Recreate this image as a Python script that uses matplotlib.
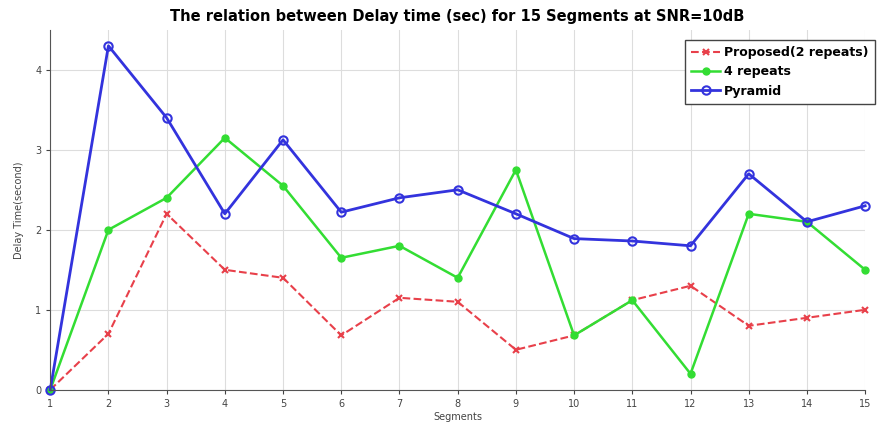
import matplotlib
matplotlib.use("Agg")
import matplotlib.pyplot as plt

segments = list(range(1, 16))
proposed = [0, 0.7, 2.2, 1.5, 1.4, 0.68, 1.15, 1.1, 0.5, 0.68, 1.12, 1.3, 0.8, 0.9, 1.0]
four_rep = [0, 2.0, 2.4, 3.15, 2.55, 1.65, 1.8, 1.4, 2.75, 0.68, 1.12, 0.2, 2.2, 2.1, 1.5]
pyramid = [0, 4.3, 3.4, 2.2, 3.125, 2.22, 2.4, 2.5, 2.2, 1.89, 1.86, 1.8, 2.7, 2.1, 2.3]

fig = plt.figure(figsize=(8.81, 4.26), dpi=100)
ax = fig.add_axes([0.057, 0.085, 0.925, 0.845])

ax.plot(segments, proposed, color='#e8404a', ls='--', lw=1.5, marker='x', ms=5, mew=1.5,
        label='Proposed(2 repeats)', clip_on=False)
ax.plot(segments, four_rep, color='#33dd33', ls='-', lw=1.8, marker='o', ms=5,
        label='4 repeats', clip_on=False)
ax.plot(segments, pyramid, color='#3333dd', ls='-', lw=2, marker='o', ms=6, mfc='none', mew=1.5,
        label='Pyramid', clip_on=False)

ax.set_xlim(1, 15)
ax.set_ylim(0, 4.5)
ax.set_xticks(segments)
ax.set_yticks([0, 1, 2, 3, 4])
ax.tick_params(labelsize=7, colors='#444444', length=3)
ax.grid(True, color='#dddddd', lw=0.8)
for s in ['top', 'right']:
    ax.spines[s].set_visible(False)
for s in ['left', 'bottom']:
    ax.spines[s].set_color('#555555')
ax.set_xlabel('Segments', fontsize=7, color='#444444', labelpad=2)
ax.set_ylabel('Delay Time(second)', fontsize=7, color='#444444', labelpad=8)
ax.set_title('The relation between Delay time (sec) for 15 Segments at SNR=10dB',
             fontsize=10.5, fontweight='bold', pad=6)
leg = ax.legend(loc='upper left', prop={'weight': 'bold', 'size': 9},
                fancybox=False, edgecolor='#444444', framealpha=1,
                bbox_to_anchor=(0.779, 0.972), borderaxespad=0.0,
                handlelength=2.3, handletextpad=0.3, labelspacing=0.5, borderpad=0.5)
leg.set_clip_on(False)
fig.savefig('out.png', dpi=100)
